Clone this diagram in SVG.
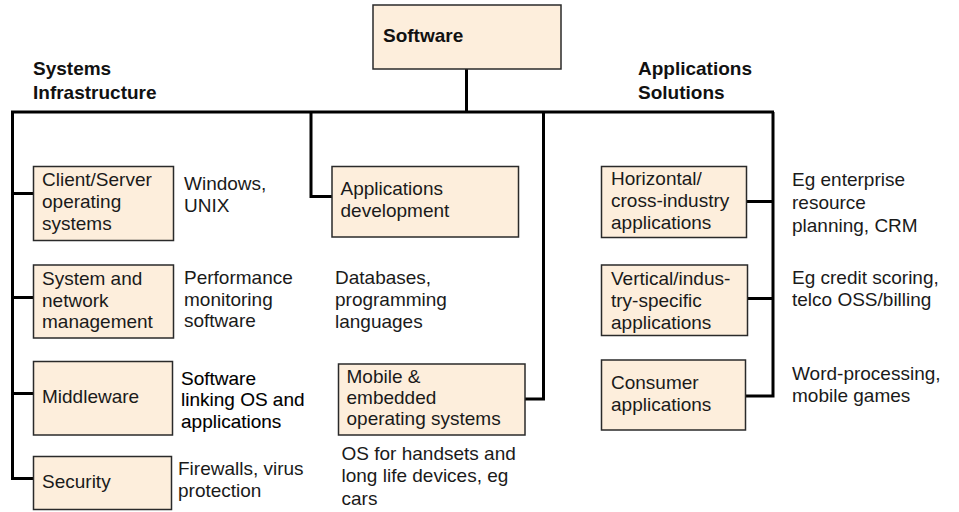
<svg xmlns="http://www.w3.org/2000/svg" width="959" height="512" viewBox="0 0 959 512">
<style>
.box{fill:#FDEEDC;stroke:#2a2a2a;stroke-width:1.5}
.t{font-family:"Liberation Sans",Arial,sans-serif;font-size:19px;fill:#1a1a1a}
.h{font-family:"Liberation Sans",Arial,sans-serif;font-size:19px;font-weight:bold;fill:#111}
.k{fill:#000;stroke:#000;stroke-width:0.1}
.c{fill:none;stroke:#000;stroke-width:3;stroke-linejoin:miter}
</style>
<rect width="959" height="512" fill="#fff"/>
<g id="connectors">
<path class="c" d="M466.5 69V112M11 112H774"/>
<path class="c" d="M12.5 112V478.5H33M12.5 193.5H33M12.5 297.5H33M12.5 393.5H33"/>
<path class="c" d="M311 112V196.5H332"/>
<path class="c" d="M543.5 112V399H525"/>
<path class="c" d="M773 112V396H746M773 201.5H747M773 298.5H748"/>
</g>
<g id="software"><rect class="box" x="373" y="5" width="188" height="64"/><text class="h" x="383" y="42">Software</text></g>
<g id="sys-infra"><text class="h" x="33" y="75">Systems</text><text class="h" x="33" y="98.5">Infrastructure</text></g>
<g id="app-sol"><text class="h" x="638" y="75">Applications</text><text class="h" x="638" y="98.5">Solutions</text></g>
<g id="client-server"><rect class="box" x="33.5" y="166.5" width="140" height="74"/>
<text class="t" x="42" y="186">Client/Server</text><text class="t" x="42" y="208">operating</text><text class="t" x="42" y="230">systems</text></g>
<g id="client-server-note"><text class="t" x="184" y="190">Windows,</text><text class="t" x="184" y="212">UNIX</text></g>
<g id="sysnet"><rect class="box" x="33.5" y="265" width="140" height="73"/>
<text class="t" x="42" y="285">System and</text><text class="t" x="42" y="306.5">network</text><text class="t" x="42" y="328">management</text></g>
<g id="sysnet-note"><text class="t" x="184" y="284">Performance</text><text class="t" x="184" y="305.5">monitoring</text><text class="t" x="184" y="327">software</text></g>
<g id="middleware"><rect class="box" x="33.5" y="361.5" width="139" height="73.5"/>
<text class="t" x="42" y="403">Middleware</text></g>
<g id="middleware-note"><text class="t k" x="181" y="384.5">Software</text><text class="t k" x="181" y="406">linking OS and</text><text class="t k" x="181" y="428">applications</text></g>
<g id="security"><rect class="box" x="33.5" y="456.5" width="138" height="53"/>
<text class="t" x="42" y="488">Security</text></g>
<g id="security-note"><text class="t" x="178" y="475">Firewalls, virus</text><text class="t" x="178" y="497">protection</text></g>
<g id="appdev"><rect class="box" x="332" y="166.5" width="186.5" height="70.5"/>
<text class="t" x="340.5" y="195">Applications</text><text class="t" x="340.5" y="216.5">development</text></g>
<g id="appdev-note"><text class="t" x="335" y="284">Databases,</text><text class="t" x="335" y="306">programming</text><text class="t" x="335" y="328">languages</text></g>
<g id="mobile"><rect class="box" x="338.5" y="364" width="186.5" height="71"/>
<text class="t" x="346.5" y="383">Mobile &amp;</text><text class="t" x="346.5" y="404">embedded</text><text class="t" x="346.5" y="425">operating systems</text></g>
<g id="mobile-note"><text class="t" x="341.5" y="460">OS for handsets and</text><text class="t" x="341.5" y="482">long life devices, eg</text><text class="t" x="341.5" y="504.5">cars</text></g>
<g id="horizontal"><rect class="box" x="601.5" y="166.5" width="145" height="71"/>
<text class="t" x="611" y="185">Horizontal/</text><text class="t" x="611" y="207">cross-industry</text><text class="t" x="611" y="228.5">applications</text></g>
<g id="horizontal-note"><text class="t" x="792" y="186">Eg enterprise</text><text class="t" x="792" y="209">resource</text><text class="t" x="792" y="231.5">planning, CRM</text></g>
<g id="vertical"><rect class="box" x="601.5" y="265" width="146" height="70.5"/>
<text class="t" x="611" y="285">Vertical/indus-</text><text class="t" x="611" y="306.5">try-specific</text><text class="t" x="611" y="328.5">applications</text></g>
<g id="vertical-note"><text class="t" x="792" y="283.5">Eg credit scoring,</text><text class="t" x="792" y="306">telco OSS/billing</text></g>
<g id="consumer"><rect class="box" x="601.5" y="360" width="144" height="70"/>
<text class="t" x="611" y="388.5">Consumer</text><text class="t" x="611" y="410.5">applications</text></g>
<g id="consumer-note"><text class="t" x="792" y="380">Word-processing,</text><text class="t" x="792" y="402">mobile games</text></g>
</svg>
